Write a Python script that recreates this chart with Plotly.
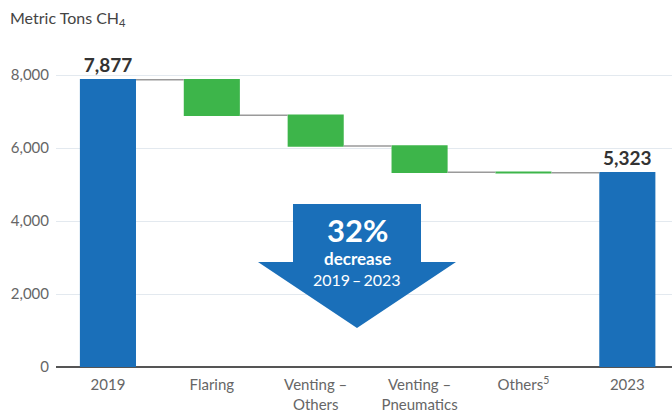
import plotly.graph_objects as go

# Methane emissions bridge, 2019 to 2023 (metric tons CH4)
categories = ["2019", "Flaring", "Venting –<br>Others", "Venting –<br>Pneumatics",
              "Others<sup>5</sup>", "2023"]
measures = ["absolute", "relative", "relative", "relative", "relative", "total"]
values = [7877, -975, -840, -725, -14, 0]
y_ticks = [0, 2000, 4000, 6000, 8000]

start_total = values[0]
end_total = sum(values[:5])
bar_text = [f"<b>{start_total:,}</b>", "", "", "", "", f"<b>{end_total:,}</b>"]

BLUE = "#1a6fb9"
GREEN = "#3db54a"
FONT = "Lato, 'Open Sans', sans-serif"

W, H = 672, 412
L, R, T, B = 56, 0, 57, 45
plot_w, plot_h = W - L - R, H - T - B


def px(x, y):
    """Pixel position inside the figure to paper coordinates."""
    return (x - L) / plot_w, (H - B - y) / plot_h


fig = go.Figure(go.Waterfall(
    x=categories,
    y=values,
    measure=measures,
    text=bar_text,
    textposition="outside",
    textfont=dict(size=19, color="#333333", family=FONT),
    cliponaxis=False,
    width=0.54,
    increasing=dict(marker=dict(color=GREEN)),
    decreasing=dict(marker=dict(color=GREEN)),
    totals=dict(marker=dict(color=BLUE)),
    connector=dict(line=dict(color="#9a9a9a", width=1.5)),
    hoverinfo="skip",
))

# Downward arrow highlighting the overall reduction
arrow_px = [(293, 204), (421, 204), (421, 262), (456, 262), (357, 328),
            (258, 262), (293, 262)]
pts = [px(x, y) for x, y in arrow_px]
path = "M " + " L ".join(f"{a:.5f},{b:.5f}" for a, b in pts) + " Z"
fig.add_shape(type="path", path=path, xref="paper", yref="paper",
              fillcolor=BLUE, line=dict(width=0), layer="above")

pct = round((start_total - end_total) / start_total * 100)
cx = px(357, 0)[0]
for label, ypix, size in [(f"<b>{pct}%</b>", 230, 31),
                          ("<b>decrease</b>", 258, 17),
                          ("2019\u2009–\u20092023", 279, 16)]:
    fig.add_annotation(x=cx, y=px(0, ypix)[1], xref="paper", yref="paper",
                       text=label, showarrow=False,
                       font=dict(size=size, color="white", family=FONT),
                       xanchor="center", yanchor="middle")

tx, ty = px(8, 18)
fig.add_annotation(x=tx, y=ty, xref="paper", yref="paper",
                   text="Metric Tons CH<sub>4</sub>", showarrow=False,
                   font=dict(size=16, color="#444444", family=FONT),
                   xanchor="left", yanchor="middle")

fig.update_layout(
    width=W, height=H,
    margin=dict(l=L, r=R, t=T, b=B),
    paper_bgcolor="white", plot_bgcolor="white",
    showlegend=False,
    font=dict(family=FONT, color="#666666"),
    xaxis=dict(
        type="category",
        range=[-0.5, 5.43],
        showgrid=False,
        tickfont=dict(size=15, color="#666666"),
        ticks="",
        showline=False,
        ticklabelstandoff=7,
        automargin=False,
    ),
    yaxis=dict(
        range=[0, 8500],
        tickvals=y_ticks,
        tickformat=",",
        tickfont=dict(size=15, color="#666666"),
        gridcolor="#e3e9ef",
        gridwidth=1,
        zeroline=True,
        zerolinecolor="#555555",
        zerolinewidth=1.5,
        ticks="",
        ticklabelstandoff=6,
        automargin=False,
    ),
)

fig.write_html("out.html")
